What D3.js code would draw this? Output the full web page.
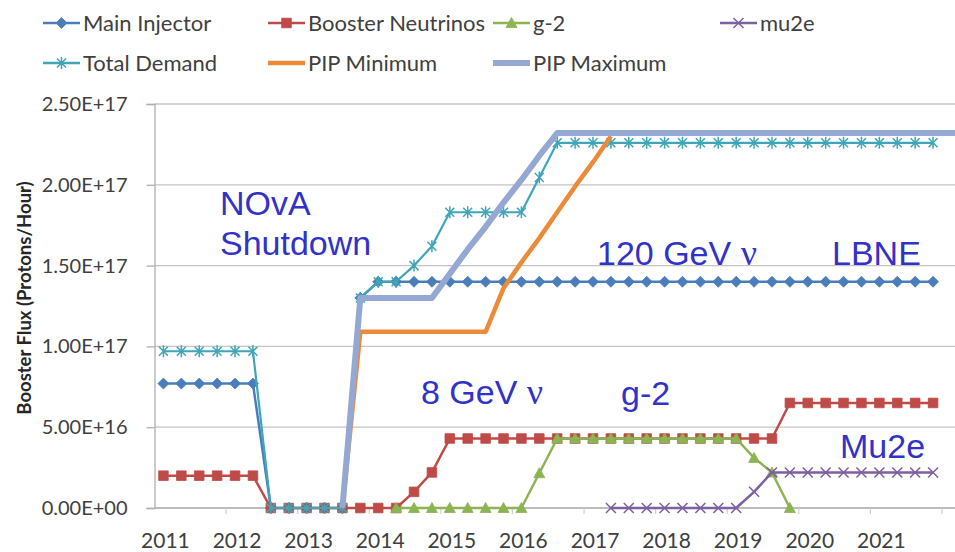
<!DOCTYPE html>
<html>
<head>
<meta charset="utf-8">
<script src="https://cdn.jsdelivr.net/npm/d3@7/dist/d3.min.js"></script>
<style>
  body { margin: 0; background: #fff; }
  svg { display: block; }
</style>
</head>
<body>
<svg id="chart" width="955" height="552"></svg>
<script>
// Category axis: quarterly steps, labelled once per year
const yearLabels = ["2011", "2012", "2013", "2014", "2015", "2016", "2017", "2018", "2019", "2020", "2021"];
const yTickValues = [0, 5e16, 1e17, 1.5e17, 2e17, 2.5e17];
const yTickLabels = ["0.00E+00", "5.00E+16", "1.00E+17", "1.50E+17", "2.00E+17", "2.50E+17"];

// Booster flux demand per quarter (protons/hour), index 0 = 2011 Q1
const mainInjector = [
  7.7e16, 7.7e16, 7.7e16, 7.7e16, 7.7e16, 7.7e16,
  0, 0, 0, 0, 0,
  1.3e17,
  1.4e17, 1.4e17, 1.4e17, 1.4e17, 1.4e17, 1.4e17, 1.4e17, 1.4e17,
  1.4e17, 1.4e17, 1.4e17, 1.4e17, 1.4e17, 1.4e17, 1.4e17, 1.4e17,
  1.4e17, 1.4e17, 1.4e17, 1.4e17, 1.4e17, 1.4e17, 1.4e17, 1.4e17,
  1.4e17, 1.4e17, 1.4e17, 1.4e17, 1.4e17, 1.4e17, 1.4e17, 1.4e17
];
const boosterNeutrinos = [
  2e16, 2e16, 2e16, 2e16, 2e16, 2e16,
  0, 0, 0, 0, 0, 0, 0, 0,
  1e16, 2.2e16,
  4.3e16, 4.3e16, 4.3e16, 4.3e16, 4.3e16, 4.3e16, 4.3e16, 4.3e16, 4.3e16, 4.3e16,
  4.3e16, 4.3e16, 4.3e16, 4.3e16, 4.3e16, 4.3e16, 4.3e16, 4.3e16, 4.3e16,
  6.5e16, 6.5e16, 6.5e16, 6.5e16, 6.5e16, 6.5e16, 6.5e16, 6.5e16, 6.5e16
];
const gMinus2 = [
  null, null, null, null, null, null, null, null, null, null, null, null, null,
  0, 0, 0, 0, 0, 0, 0, 0,
  2.15e16,
  4.3e16, 4.3e16, 4.3e16, 4.3e16, 4.3e16, 4.3e16, 4.3e16, 4.3e16, 4.3e16, 4.3e16, 4.3e16,
  3.1e16, 2.2e16, 0,
  null, null, null, null, null, null, null, null
];
const mu2e = [
  null, null, null, null, null, null, null, null, null, null, null, null, null,
  null, null, null, null, null, null, null, null, null, null, null, null,
  0, 0, 0, 0, 0, 0, 0, 0,
  1e16,
  2.2e16, 2.2e16, 2.2e16, 2.2e16, 2.2e16, 2.2e16, 2.2e16, 2.2e16, 2.2e16, 2.2e16
];
const totalDemand = [
  9.7e16, 9.7e16, 9.7e16, 9.7e16, 9.7e16, 9.7e16,
  0, 0, 0, 0, 0,
  1.3e17, 1.4e17, 1.4e17, 1.5e17, 1.62e17,
  1.83e17, 1.83e17, 1.83e17, 1.83e17, 1.83e17,
  2.045e17,
  2.26e17, 2.26e17, 2.26e17, 2.26e17, 2.26e17, 2.26e17, 2.26e17, 2.26e17, 2.26e17, 2.26e17, 2.26e17,
  2.26e17, 2.26e17,
  2.26e17, 2.26e17, 2.26e17, 2.26e17, 2.26e17, 2.26e17, 2.26e17, 2.26e17, 2.26e17
];
const pipMinimum = [
  null, null, null, null, null, null, null, null, null, null,
  0,
  1.09e17, 1.09e17, 1.09e17, 1.09e17, 1.09e17, 1.09e17, 1.09e17, 1.09e17,
  1.36e17, 1.52e17, 1.67e17, 1.83e17, 1.99e17, 2.14e17, 2.30e17
];
const pipMaximum = [
  null, null, null, null, null, null, null, null, null, null,
  0,
  1.3e17, 1.3e17, 1.3e17, 1.3e17, 1.3e17,
  1.45e17, 1.6e17, 1.74e17, 1.89e17, 2.03e17, 2.18e17,
  2.32e17, 2.32e17, 2.32e17, 2.32e17, 2.32e17, 2.32e17, 2.32e17, 2.32e17, 2.32e17, 2.32e17,
  2.32e17, 2.32e17, 2.32e17, 2.32e17, 2.32e17, 2.32e17, 2.32e17, 2.32e17, 2.32e17, 2.32e17,
  2.32e17, 2.32e17, 2.32e17, 2.32e17
];

const series = [
  { name: "Main Injector",     values: mainInjector,     color: "#4A7EBB", width: 2.5, marker: "diamond" },
  { name: "Booster Neutrinos", values: boosterNeutrinos, color: "#BE4B48", width: 2.5, marker: "square" },
  { name: "g-2",               values: gMinus2,          color: "#8CB453", width: 2.5, marker: "triangle" },
  { name: "mu2e",              values: mu2e,             color: "#7D60A0", width: 2.5, marker: "x" },
  { name: "Total Demand",      values: totalDemand,      color: "#3FA6B8", width: 2.2, marker: "star" },
  { name: "PIP Minimum",       values: pipMinimum,       color: "#EC8A3A", width: 4.5, marker: null },
  { name: "PIP Maximum",       values: pipMaximum,       color: "#95A8D4", width: 6,   marker: null }
];

const svg = d3.select("#chart");
const W = 955, H = 552;

const x = d3.scaleLinear().domain([-0.5, 43.5]).range([154.5, 942]);
const y = d3.scaleLinear().domain([0, 2.5e17]).range([508, 104]);

const tickFont = "Lato, 'Open Sans', sans-serif";
const noteFont = "'Liberation Sans', Arial, sans-serif";

// gridlines
svg.append("g").selectAll("line")
  .data(yTickValues)
  .join("line")
  .attr("x1", x(-0.5)).attr("x2", W)
  .attr("y1", d => y(d)).attr("y2", d => y(d))
  .attr("stroke", d => d === 0 ? "#A6A6A6" : "#C4C4C4")
  .attr("stroke-width", 1.3);

// y axis
const yAxis = svg.append("g")
  .attr("transform", `translate(${x(-0.5)},0)`)
  .call(d3.axisLeft(y).tickValues(yTickValues)
    .tickFormat((d, i) => yTickLabels[i]).tickSize(8).tickPadding(19));
yAxis.select(".domain").attr("stroke", "#B0B0B0").attr("stroke-width", 1.3);
yAxis.selectAll(".tick line").attr("stroke", "#B0B0B0").attr("stroke-width", 1.3);
yAxis.selectAll("text")
  .attr("font-family", tickFont).attr("font-size", 20).attr("fill", "#404040");

// x axis labels (one per year, at Q1) and year-boundary ticks
const xAxis = svg.append("g");
xAxis.selectAll("text")
  .data(yearLabels)
  .join("text")
  .attr("x", (d, i) => x(i * 4) + 2)
  .attr("y", 548)
  .attr("text-anchor", "middle")
  .attr("font-family", tickFont).attr("font-size", 21).attr("fill", "#404040")
  .text(d => d);
xAxis.selectAll("line")
  .data(d3.range(1, 12))
  .join("line")
  .attr("x1", k => x(4 * k - 0.5)).attr("x2", k => x(4 * k - 0.5))
  .attr("y1", y(0)).attr("y2", y(0) + 6)
  .attr("stroke", "#D0D0D0").attr("stroke-width", 1.2);

// y axis title
svg.append("text")
  .attr("transform", "translate(31,298) rotate(-90)")
  .attr("text-anchor", "middle")
  .attr("font-family", tickFont).attr("font-weight", "bold")
  .attr("font-size", 18.5).attr("fill", "#262626")
  .text("Booster Flux (Protons/Hour)");

// marker shapes
function markerPath(type) {
  switch (type) {
    case "diamond":  return "M0,-5.5L5.5,0L0,5.5L-5.5,0Z";
    case "square":   return "M-4.8,-4.8H4.8V4.8H-4.8Z";
    case "triangle": return "M0,-5.5L5.5,4.5H-5.5Z";
    case "x":        return "M-5,-5L5,5M5,-5L-5,5";
    case "star":     return "M-4.5,-4.5L4.5,4.5M4.5,-4.5L-4.5,4.5M0,-6V6";
  }
  return "";
}
const stroked = t => t === "x" || t === "star";

const line = d3.line()
  .defined(d => d.v !== null)
  .x(d => x(d.i))
  .y(d => y(d.v));

const plot = svg.append("g");
series.forEach(s => {
  const pts = s.values.map((v, i) => ({ i, v }));
  const g = plot.append("g");
  g.append("path")
    .datum(pts)
    .attr("d", line)
    .attr("fill", "none")
    .attr("stroke", s.color)
    .attr("stroke-width", s.width)
    .attr("stroke-linejoin", "round");
  if (s.marker) {
    g.selectAll("path.m")
      .data(pts.filter(d => d.v !== null))
      .join("path")
      .attr("class", "m")
      .attr("transform", d => `translate(${x(d.i)},${y(d.v)})`)
      .attr("d", markerPath(s.marker))
      .attr("fill", stroked(s.marker) ? "none" : s.color)
      .attr("stroke", s.color)
      .attr("stroke-width", stroked(s.marker) ? 1.5 : 0.8);
  }
});

// annotations; the Greek nu is set in a serif face
const notes = [
  { text: "NOvA",      nu: false, x: 220, y: 215 },
  { text: "Shutdown",  nu: false, x: 220, y: 255 },
  { text: "120 GeV ",  nu: true,  x: 597, y: 265 },
  { text: "LBNE",      nu: false, x: 832, y: 265 },
  { text: "8 GeV ",    nu: true,  x: 421, y: 404 },
  { text: "g-2",       nu: false, x: 621, y: 405 },
  { text: "Mu2e",      nu: false, x: 840, y: 458 }
];
const noteText = svg.append("g").selectAll("text")
  .data(notes)
  .join("text")
  .attr("x", d => d.x).attr("y", d => d.y)
  .attr("font-family", noteFont).attr("font-size", 34)
  .attr("fill", "#3232C8")
  .text(d => d.text);
noteText.filter(d => d.nu)
  .append("tspan")
  .attr("font-family", "'Liberation Serif', 'DejaVu Serif', serif")
  .attr("font-size", 36)
  .text("\u03bd");

// legend
const legendPos = [
  { x: 43,  y: 23 }, { x: 268, y: 23 }, { x: 493, y: 23 }, { x: 720, y: 23 },
  { x: 43,  y: 63 }, { x: 268, y: 63 }, { x: 493, y: 63 }
];
const legend = svg.append("g");
series.forEach((s, i) => {
  const p = legendPos[i];
  const g = legend.append("g").attr("transform", `translate(${p.x},${p.y})`);
  g.append("line")
    .attr("x1", 0).attr("x2", 37)
    .attr("stroke", s.color)
    .attr("stroke-width", s.marker ? 2.5 : s.width);
  if (s.marker) {
    g.append("path")
      .attr("transform", "translate(18.5,0)")
      .attr("d", markerPath(s.marker))
      .attr("fill", stroked(s.marker) ? "none" : s.color)
      .attr("stroke", s.color)
      .attr("stroke-width", stroked(s.marker) ? 1.5 : 0.8);
  }
  g.append("text")
    .attr("x", 40).attr("y", 8)
    .attr("font-family", tickFont).attr("font-size", 22)
    .attr("fill", "#404040")
    .text(s.name);
});
</script>
</body>
</html>
